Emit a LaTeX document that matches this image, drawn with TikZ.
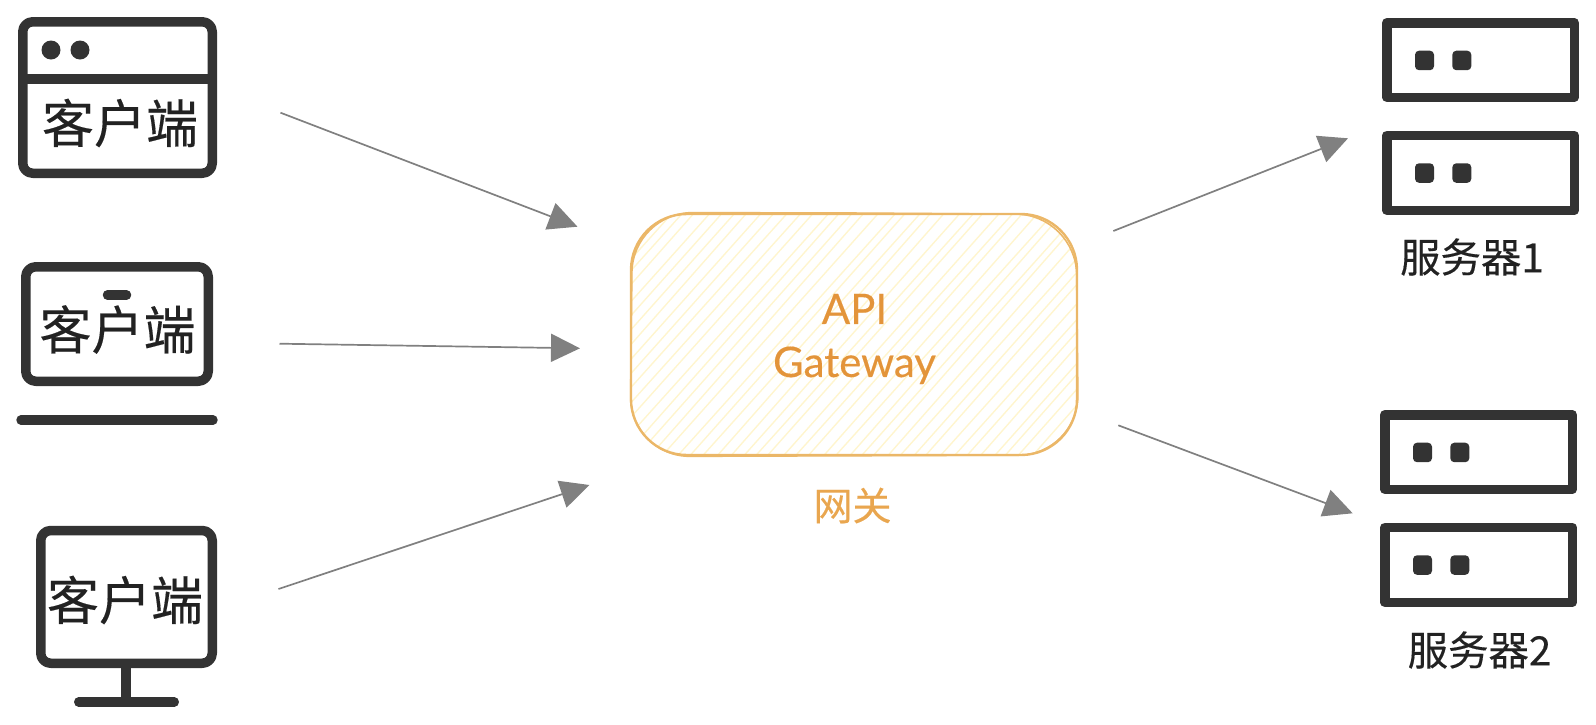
\documentclass[tikz,border=0pt]{standalone}
\usepackage{fontspec}
\setmainfont[FakeBold=0.35]{Lato}
\newfontfamily\cjk[FakeBold=0.3]{Noto Sans CJK SC}
\usetikzlibrary{arrows.meta}
\definecolor{icon}{HTML}{333333}
\definecolor{cjktext}{HTML}{222222}
\definecolor{arrowgrey}{HTML}{808080}
\definecolor{gwline}{HTML}{EBB768}
\definecolor{gwhatch}{HTML}{FFF5CE}
\definecolor{gwtext}{HTML}{E3943A}
\definecolor{gwlabel}{HTML}{E9A64F}
\tikzset{
  iconline/.style={draw=icon,line width=4.75pt,line join=round},
  roundicon/.style={iconline,rounded corners=5pt},
  iconbar/.style={draw=icon,line width=4.75pt,line cap=round},
  icondot/.style={fill=icon,draw=none,rounded corners=2pt},
  clienttext/.style={font=\cjk\fontsize{26}{30}\selectfont,text=cjktext,inner sep=0pt},
  servertext/.style={font=\cjk\fontsize{20.2}{24}\selectfont,text=cjktext,inner sep=0pt},
  link/.style={draw=arrowgrey,line width=0.85pt,-{Triangle[length=14.5pt,width=14pt]}},
  gwstroke/.style={draw=gwline,line width=1.2pt}
}
\begin{document}
\begin{tikzpicture}[x=0.5pt,y=-0.5pt]
\useasboundingbox (0,0) rectangle (1596,724);
% gateway
\begin{scope}
  \clip[rounded corners=28pt] (632,214) rectangle (1076,455);
  \pgfmathsetseed{7}
  \foreach \i in {0,...,56}{
    \pgfmathsetmacro{\jit}{rand*2.2}
    \pgfmathsetmacro{\jot}{rand*3}
    \draw[gwhatch,line width=0.7pt] ({400+13.2*\i+\jit},470) -- ({400+13.2*\i+\jit+240+\jot},200);
  }
\end{scope}
\draw[gwstroke,rounded corners=28pt] (631,214) rectangle (1077,455);
\draw[gwstroke,rounded corners=30pt,line width=0.8pt,line cap=round] (850,213) -- (1076,214.5) -- (1078.5,455) -- (630,456.5) -- (632.5,212.5) -- (850,213);
\node[font=\fontsize{21}{26.5}\selectfont,text=gwtext,align=center,inner sep=0pt] (gw) at (854.5,339) {API\\Gateway};
\node[font=\cjk\fontsize{19.5}{24}\selectfont,text=gwlabel,inner sep=0pt] (gwlab) at (852.5,505.5) {网关};
% window client
\draw[roundicon] (22.75,21.75) rectangle (212.25,173.25);
\draw[iconline] (22.75,79) -- (212.25,79);
\fill[icon] (51,50) circle (9.5) (80,50) circle (9.5);
\node[clienttext] (c1) at (120,123) {客户端};
% laptop client
\draw[roundicon] (25.75,266.75) rectangle (208.25,381.25);
\draw[iconbar,line width=4.7pt] (21,420) -- (213,420);
\draw[iconbar] (107.5,295) -- (126.5,295);
\node[clienttext] (c2) at (117.5,329.5) {客户端};
% monitor client
\draw[roundicon] (40.75,530.5) rectangle (212.25,663.25);
\draw[iconline] (126,668) -- (126,702);
\draw[iconbar] (78.75,702) -- (174.25,702);
\node[clienttext] (c3) at (125,600) {客户端};
% servers
\draw[iconline] (1386.75,22.75) rectangle (1574.25,97.25);
\draw[iconline] (1386.75,135.5) rectangle (1574.25,210.25);
\draw[iconline] (1384.75,414.75) rectangle (1572.25,489.25);
\draw[iconline] (1384.75,527.5) rectangle (1572.25,602.25);
\foreach \x/\y in {1415/50.7,1452.3/50.7,1415/163.3,1452.3/163.3,1413/442.7,1450.3/442.7,1413/555.3,1450.3/555.3}{
  \draw[icondot] (\x,\y) rectangle ++(19,19.5);
}
\node[servertext] (s1) at (1472,257) {服务器1};
\node[servertext] (s2) at (1479.5,650) {服务器2};
% connectors
\coordinate (a1s) at (280.5,112.7); \coordinate (a1e) at (577.5,226.7);
\coordinate (a2s) at (279.5,343.7); \coordinate (a2e) at (580,348.3);
\coordinate (a3s) at (278.5,589);   \coordinate (a3e) at (589.5,485);
\coordinate (a4s) at (1113.3,231);  \coordinate (a4e) at (1348,138.3);
\coordinate (a5s) at (1118.3,425.3);\coordinate (a5e) at (1352.7,513.3);
\draw[link] (a1s) -- (a1e);
\draw[link] (a2s) -- (a2e);
\draw[link] (a3s) -- (a3e);
\draw[link] (a4s) -- (a4e);
\draw[link] (a5s) -- (a5e);
\end{tikzpicture}
\end{document}
